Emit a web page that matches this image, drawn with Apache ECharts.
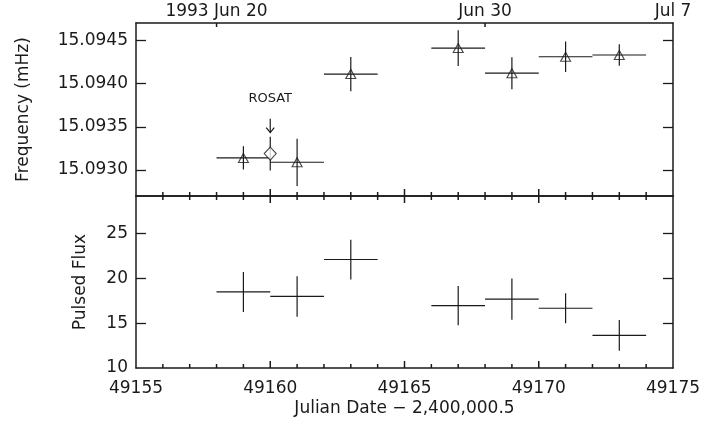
<!DOCTYPE html>
<html>
<head>
<meta charset="utf-8">
<script src="https://cdn.jsdelivr.net/npm/echarts@6/dist/echarts.min.js"></script>
<style>
  html, body { margin: 0; padding: 0; background: #fff; }
  #chart { width: 707px; height: 424px; }
</style>
</head>
<body>
<div id="chart"></div>
<script>
// Observation epochs (MJD) and half-width of each averaging bin (days)
const epochs = [49159, 49161, 49163, 49167, 49169, 49171, 49173];
const binHalfWidth = [1, 1, 1, 1, 1, 1, 1];

// Pulse frequency (mHz) and 1-sigma errors
const freqValues = [15.09314, 15.09309, 15.09411, 15.09441, 15.09412, 15.09431, 15.09433];
const freqErrors = [0.000135, 0.000273, 0.000198, 0.000206, 0.000185, 0.000177, 0.000125];

// ROSAT frequency measurement
const rosatEpoch = [49160];
const rosatFreq = [15.09319];
const rosatError = [0.000196];
const rosatLabel = 'ROSAT';

// Pulsed flux and 1-sigma errors
const fluxValues = [18.49, 17.99, 22.11, 16.96, 17.68, 16.67, 13.64];
const fluxErrors = [2.24, 2.26, 2.22, 2.19, 2.30, 1.67, 1.72];

// Axis ranges, ticks and labels
const dateMin = 49155, dateMax = 49175, dateStep = 5;
const dayTicks = [49156, 49157, 49158, 49159, 49160, 49161, 49162, 49163, 49164,
  49165, 49166, 49167, 49168, 49169, 49170, 49171, 49172, 49173, 49174];
const majorDayTicks = [49160, 49165, 49170];
const freqMin = 15.0927, freqMax = 15.0947;
const freqTicks = [15.0930, 15.0935, 15.0940, 15.0945];
const fluxMin = 10, fluxMax = 29.2;
const fluxLabelTicks = [10, 15, 20, 25];
const fluxTicks = [15, 20, 25];
const calendarTicks = [49158, 49168, 49175];
const calendarLabels = ['1993 Jun 20', 'Jun 30', 'Jul 7'];

const INK = '#1a1a1a';
const FONT = 'DejaVu Sans';

const freqRows = epochs.map((d, i) => [d, freqValues[i], binHalfWidth[i], freqErrors[i]]);
const fluxRows = epochs.map((d, i) => [d, fluxValues[i], binHalfWidth[i], fluxErrors[i]]);
const rosatRows = rosatEpoch.map((d, i) => [d, rosatFreq[i], 0, rosatError[i]]);

// Cross-shaped error bars: horizontal bin width, vertical 1-sigma error
function crossBars(params, api) {
  const x = api.value(0), y = api.value(1), dx = api.value(2), dy = api.value(3);
  const children = [];
  const lineStyle = { stroke: INK, lineWidth: 1.2 };
  if (dx > 0) {
    const a = api.coord([x - dx, y]), b = api.coord([x + dx, y]);
    children.push({ type: 'line', shape: { x1: a[0], y1: a[1], x2: b[0], y2: b[1] }, style: lineStyle });
  }
  const c = api.coord([x, y - dy]), d = api.coord([x, y + dy]);
  children.push({ type: 'line', shape: { x1: c[0], y1: c[1], x2: d[0], y2: d[1] }, style: lineStyle });
  return { type: 'group', children };
}

// ROSAT point: error bar plus an arrow and label above it
function rosatMark(params, api) {
  const g = crossBars(params, api);
  const x = api.value(0), y = api.value(1), dy = api.value(3);
  const top = api.coord([x, y + dy]);
  const tipY = top[1] - 4, tailY = top[1] - 18;
  const s = { stroke: INK, lineWidth: 1.2, fill: null };
  g.children.push({ type: 'line', shape: { x1: top[0], y1: tailY, x2: top[0], y2: tipY }, style: s });
  g.children.push({ type: 'polyline', shape: { points: [[top[0] - 4, tipY - 5], [top[0], tipY], [top[0] + 4, tipY - 5]] }, style: s });
  g.children.push({
    type: 'text',
    style: { x: top[0], y: top[1] - 38, text: rosatLabel, fill: INK, font: '13px "DejaVu Sans"', align: 'center', verticalAlign: 'middle' }
  });
  return g;
}

// Inward date ticks on a horizontal frame edge, as thin rectangles sitting on the edge.
// dir = -1 points up from a bottom edge, +1 points down from a top edge.
function edgeTicks(dates, edgeValue, dir) {
  return dates.map(d => {
    const len = majorDayTicks.includes(d) ? 7 : 4;
    return { value: [d, edgeValue], symbolSize: [1.5, len], symbolOffset: [0, dir * len / 2] };
  });
}

function tickSeries(xAxisIndex, yAxisIndex, data) {
  return {
    type: 'scatter', xAxisIndex, yAxisIndex, data,
    symbol: 'rect', itemStyle: { color: INK, opacity: 1 },
    silent: true, clip: false, z: 5, animation: false
  };
}

const labelStyle = { color: INK, fontFamily: FONT, fontSize: 17 };
const mkLine = () => ({ show: true, onZero: false, lineStyle: { color: INK, width: 1.5 } });
const mkTickStyle = () => ({ color: INK, width: 1.3 });

function dateAxis(gridIndex, position, extra) {
  return Object.assign({
    type: 'value', gridIndex, position, min: dateMin, max: dateMax, interval: dateStep,
    axisLine: mkLine(),
    axisTick: { show: false },
    axisLabel: { show: false },
    splitLine: { show: false }
  }, extra || {});
}

const option = {
  animation: false,
  backgroundColor: '#ffffff',
  textStyle: { fontFamily: FONT },
  grid: [
    { left: 136, right: 34, top: 23, height: 173 },
    { left: 136, right: 34, top: 196, height: 172 }
  ],
  xAxis: [
    dateAxis(0, 'bottom'),
    dateAxis(0, 'top', {
      interval: null,
      axisLabel: Object.assign({
        show: true, margin: 3, customValues: calendarTicks,
        formatter: v => calendarLabels[calendarTicks.indexOf(v)] || ''
      }, labelStyle)
    }),
    dateAxis(1, 'top'),
    dateAxis(1, 'bottom', {
      axisLabel: Object.assign({ show: true, margin: 12, formatter: v => String(v) }, labelStyle),
      name: 'Julian Date \u2212 2,400,000.5',
      nameLocation: 'middle', nameGap: 32,
      nameTextStyle: labelStyle
    })
  ],
  yAxis: [
    {
      type: 'value', gridIndex: 0, position: 'left', min: freqMin, max: freqMax,
      axisLine: mkLine(),
      axisTick: { show: true, inside: true, length: 10, customValues: freqTicks, lineStyle: mkTickStyle() },
      axisLabel: Object.assign({ show: true, margin: 8, customValues: freqTicks, formatter: v => v.toFixed(4) }, labelStyle),
      splitLine: { show: false },
      name: 'Frequency (mHz)', nameLocation: 'middle', nameRotate: 90, nameGap: 104,
      nameTextStyle: labelStyle
    },
    {
      type: 'value', gridIndex: 0, position: 'right', min: freqMin, max: freqMax,
      axisLine: mkLine(),
      axisTick: { show: true, inside: true, length: 10, customValues: freqTicks, lineStyle: mkTickStyle() },
      axisLabel: { show: false },
      splitLine: { show: false }
    },
    {
      type: 'value', gridIndex: 1, position: 'left', min: fluxMin, max: fluxMax,
      axisLine: mkLine(),
      axisTick: { show: true, inside: true, length: 10, customValues: fluxTicks, lineStyle: mkTickStyle() },
      axisLabel: Object.assign({ show: true, margin: 8, customValues: fluxLabelTicks }, labelStyle),
      splitLine: { show: false },
      name: 'Pulsed Flux', nameLocation: 'middle', nameRotate: 90, nameGap: 47,
      nameTextStyle: labelStyle
    },
    {
      type: 'value', gridIndex: 1, position: 'right', min: fluxMin, max: fluxMax,
      axisLine: mkLine(),
      axisTick: { show: true, inside: true, length: 10, customValues: fluxTicks, lineStyle: mkTickStyle() },
      axisLabel: { show: false },
      splitLine: { show: false }
    }
  ],
  series: [
    // date ticks on the frame of both panels
    tickSeries(0, 0, edgeTicks(dayTicks, freqMin, -1)),
    tickSeries(1, 0, calendarTicks.filter(d => d < dateMax).map(d => ({ value: [d, freqMax], symbolSize: [1.5, 4], symbolOffset: [0, 2] }))),
    tickSeries(3, 2, edgeTicks(dayTicks, fluxMax, 1)),
    tickSeries(3, 2, edgeTicks(dayTicks, fluxMin, -1)),
    // frequency panel
    {
      type: 'custom', xAxisIndex: 0, yAxisIndex: 0, data: freqRows,
      encode: { x: 0, y: 1 }, renderItem: crossBars, silent: true
    },
    {
      type: 'scatter', xAxisIndex: 0, yAxisIndex: 0,
      data: freqRows.map(r => [r[0], r[1]]),
      symbol: 'triangle', symbolSize: [10, 9],
      itemStyle: { color: 'rgba(0,0,0,0)', borderColor: INK, borderWidth: 1.1 },
      silent: true
    },
    {
      type: 'custom', xAxisIndex: 0, yAxisIndex: 0, data: rosatRows,
      encode: { x: 0, y: 1 }, renderItem: rosatMark, silent: true
    },
    {
      type: 'scatter', xAxisIndex: 0, yAxisIndex: 0,
      data: rosatRows.map(r => [r[0], r[1]]),
      symbol: 'diamond', symbolSize: [12, 13],
      itemStyle: { color: '#ffffff', borderColor: INK, borderWidth: 1.1 },
      silent: true
    },
    // pulsed flux panel
    {
      type: 'custom', xAxisIndex: 3, yAxisIndex: 2, data: fluxRows,
      encode: { x: 0, y: 1 }, renderItem: crossBars, silent: true
    }
  ]
};

const chart = echarts.init(document.getElementById('chart'), null, { renderer: 'canvas' });
chart.setOption(option);
</script>
</body>
</html>
